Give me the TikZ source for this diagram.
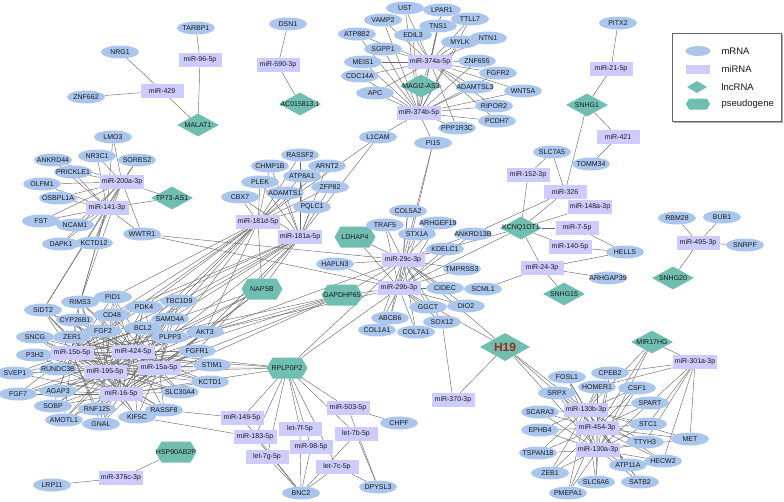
\documentclass[tikz,border=0pt]{standalone}
\usepackage{fontspec}
\setmainfont{Liberation Sans}
\usetikzlibrary{shapes.geometric,shapes.symbols}
\pgfdeclarelayer{bg}
\pgfsetlayers{bg,main}
\definecolor{mcol}{RGB}{170,198,237}
\definecolor{micol}{RGB}{206,204,255}
\definecolor{tcol}{RGB}{111,190,176}
\definecolor{ecol}{RGB}{108,108,108}
\definecolor{tx}{RGB}{25,25,25}
\definecolor{hcol}{RGB}{158,42,28}
\newlength\mylen
\newcommand\nf{\fontsize{7}{8.4}\selectfont}
\newcommand\Mrna[3]{\settowidth\mylen{\nf #3}\addtolength\mylen{6pt}\ifdim\mylen<38pt \setlength\mylen{38pt}\fi
  \node[mr,minimum width=\mylen] (#1) at (#2) {\makebox[0pt]{#3}};}
\newcommand\Mirna[3]{\node[mir] (#1) at (#2) {#3};}
\newcommand\Lnc[3]{\node[lnc] (#1) at (#2) {\makebox[0pt]{#3}};}
\newcommand\Pseu[3]{\node[pse] (#1) at (#2) {\makebox[0pt]{#3}};}
\begin{document}
\begin{tikzpicture}[x=1pt,y=-1pt,
  mr/.style={ellipse,fill=mcol,minimum height=13pt,inner sep=0pt,font=\nf,text=tx},
  mir/.style={rectangle,fill=micol,minimum width=43pt,minimum height=14pt,inner xsep=2pt,inner ysep=0pt,font=\nf,text=tx},
  lnc/.style={diamond,fill=tcol,minimum width=42pt,minimum height=23pt,inner sep=0pt,font=\nf,text=tx},
  pse/.style={signal,signal to=east and west,signal pointer angle=120,fill=tcol,minimum width=41pt,minimum height=21pt,inner sep=0pt,font=\nf,text=tx},
  edg/.style={draw=ecol,line width=0.45pt}]
\useasboundingbox (0,0) rectangle (784,501);
% ---------- top left
\Mrna{TARBP1}{196,28}{TARBP1}
\Mirna{m96}{200,60}{miR-96-5p}
\Mrna{NRG1}{120,52}{NRG1}
\Mirna{m429}{162,91}{miR-429}
\Mrna{ZNF662}{86,97}{ZNF662}
\Lnc{MALAT1}{198,125}{MALAT1}
\Mrna{DSN1}{288,24}{DSN1}
\Mirna{m590}{278,65}{miR-590-3p}
\Lnc{AC015}{300,104}{AC015813.1}
% ---------- miR-374 cluster
\Mrna{UST}{405,8}{UST}
\Mrna{LPAR1}{442,10}{LPAR1}
\Mrna{VAMP2}{383,20}{VAMP2}
\Mrna{TTLL7}{470,19}{TTLL7}
\Mrna{TNS1}{438,26}{TNS1}
\Mrna{ATP8B2}{357,34}{ATP8B2}
\Mrna{EDIL3}{413,35}{EDIL3}
\Mrna{SGPP1}{383,49}{SGPP1}
\Mrna{MYLK}{460,42}{MYLK}
\Mrna{NTN1}{488,38}{NTN1}
\Mrna{MEIS1}{363,62}{MEIS1}
\Mirna{m374a}{430,62}{miR-374a-5p}
\Mrna{ZNF655}{477,61}{ZNF655}
\Mrna{CDC14A}{360,76}{CDC14A}
\Mrna{FGFR2}{498,73}{FGFR2}
\Lnc{MAGI2}{421,86}{MAGI2-AS3}
\Mrna{ADAMTSL3}{475,87}{ADAMTSL3}
\Mrna{WNT5A}{523,91}{WNT5A}
\Mrna{APC}{375,93}{APC}
\Mirna{m374b}{419,113}{miR-374b-5p}
\Mrna{RIPOR2}{494,106}{RIPOR2}
\Mrna{PCDH7}{497,121}{PCDH7}
\Mrna{PPP1R3C}{457,128}{PPP1R3C}
\Mrna{PI15}{433,143}{PI15}
\Mrna{L1CAM}{378,137}{L1CAM}
% ---------- SNHG1 / KCNQ1OT1
\Mrna{PITX2}{618,23}{PITX2}
\Mirna{m21}{611,69}{miR-21-5p}
\Lnc{SNHG1}{587,105}{SNHG1}
\Mirna{m421}{618,137}{miR-421}
\Mrna{SLC7A5}{552,152}{SLC7A5}
\Mrna{TOMM34}{591,164}{TOMM34}
\Mirna{m152}{528,175}{miR-152-3p}
\Mirna{m326}{565,192}{miR-326}
\Mirna{m148a}{590,207}{miR-148a-3p}
\Lnc{KCNQ1}{521,228}{KCNQ1OT1}
\Mirna{m7}{577,228}{miR-7-5p}
\Mirna{m140}{570,247}{miR-140-5p}
\Mrna{HELLS}{625,252}{HELLS}
\Mirna{m24}{542,268}{miR-24-3p}
\Mrna{ARHGAP39}{608,278}{ARHGAP39}
\Lnc{SNHG15}{564,294}{SNHG15}
% ---------- miR-495
\Mrna{RBM28}{677,218}{RBM28}
\Mrna{BUB1}{722,217}{BUB1}
\Mirna{m495}{698,243}{miR-495-3p}
\Mrna{SNRPF}{745,245}{SNRPF}
\Lnc{SNHG20}{673,278}{SNHG20}
% ---------- miR-200 cluster
\Mrna{LMO3}{113,137}{LMO3}
\Mrna{ANKRD44}{53,160}{ANKRD44}
\Mrna{NR3C1}{97,156}{NR3C1}
\Mrna{SORBS2}{137,160}{SORBS2}
\Mrna{PRICKLE1}{73,172}{PRICKLE1}
\Mrna{OLFM1}{42,184}{OLFM1}
\Mirna{m200a}{122,182}{miR-200a-3p}
\Lnc{TP73AS1}{172,198}{TP73-AS1}
\Mrna{OSBPL1A}{58,198}{OSBPL1A}
\Mirna{m141}{107,208}{miR-141-3p}
\Mrna{FST}{41,221}{FST}
\Mrna{NCAM1}{75,225}{NCAM1}
\Mrna{WWTR1}{142,234}{WWTR1}
\Mrna{DAPK1}{61,244}{DAPK1}
\Mrna{KCTD12}{94,243}{KCTD12}
% ---------- miR-181 cluster
\Mrna{RASSF2}{300,155}{RASSF2}
\Mrna{CHMP1B}{270,166}{CHMP1B}
\Mrna{ARNT2}{327,166}{ARNT2}
\Mrna{ATP8A1}{302,176}{ATP8A1}
\Mrna{PLEK}{260,182}{PLEK}
\Mrna{ZFP82}{330,187}{ZFP82}
\Mrna{CBX7}{240,197}{CBX7}
\Mrna{ADAMTS1}{285,193}{ADAMTS1}
\Mrna{PQLC1}{312,207}{PQLC1}
\Mirna{m181d}{258,222}{miR-181d-5p}
\Mirna{m181a}{300,237}{miR-181a-5p}
\Pseu{LDHAP4}{355,237}{LDHAP4}
\Pseu{NAPSB}{262,289}{NAPSB}
\Pseu{GAPDHP65}{342,295}{GAPDHP65}
% ---------- miR-29 cluster
\Mrna{TRAF5}{385,225}{TRAF5}
\Mrna{COL5A2}{408,211}{COL5A2}
\Mrna{ARHGEF19}{438,223}{ARHGEF19}
\Mrna{STX1A}{417,234}{STX1A}
\Mrna{ANKRD13B}{473,234}{ANKRD13B}
\Mrna{KDELC1}{445,249}{KDELC1}
\Mrna{HAPLN3}{335,264}{HAPLN3}
\Mirna{m29c}{403,260}{miR-29c-3p}
\Mrna{TMPRSS3}{462,269}{TMPRSS3}
\Mirna{m29b}{399,288}{miR-29b-3p}
\Mrna{CIDEC}{445,288}{CIDEC}
\Mrna{SCML1}{483,289}{SCML1}
\Mrna{GGCT}{428,307}{GGCT}
\Mrna{DIO2}{466,306}{DIO2}
\Mrna{ABCB6}{390,318}{ABCB6}
\Mrna{SOX12}{442,322}{SOX12}
\Mrna{COL1A1}{377,330}{COL1A1}
\Mrna{COL7A1}{416,332}{COL7A1}
% ---------- dense cluster
\Mrna{SIDT2}{43,310}{SIDT2}
\Mrna{RIMS3}{80,302}{RIMS3}
\Mrna{PID1}{113,297}{PID1}
\Mrna{CD48}{112,315}{CD48}
\Mrna{PDK4}{144,307}{PDK4}
\Mrna{TBC1D9}{179,301}{TBC1D9}
\Mrna{CYP26B1}{75,320}{CYP26B1}
\Mrna{SAMD4A}{170,319}{SAMD4A}
\Mrna{FGF2}{103,331}{FGF2}
\Mrna{BCL2}{143,328}{BCL2}
\Mrna{AKT3}{205,332}{AKT3}
\Mrna{SNCG}{35,337}{SNCG}
\Mrna{ZER1}{72,337}{ZER1}
\Mrna{PLPP3}{170,337}{PLPP3}
\Mrna{P3H2}{35,355}{P3H2}
\Mrna{FGFR1}{197,351}{FGFR1}
\Mrna{RUNDC3B}{58,369}{RUNDC3B}
\Mrna{STIM1}{212,365}{STIM1}
\Mrna{SVEP1}{15,373}{SVEP1}
\Mrna{KCTD1}{210,382}{KCTD1}
\Mrna{FGF7}{18,394}{FGF7}
\Mrna{AGAP3}{58,391}{AGAP3}
\Mrna{SLC30A4}{180,392}{SLC30A4}
\Mrna{SOBP}{53,406}{SOBP}
\Mrna{RNF125}{97,409}{RNF125}
\Mrna{RASSF8}{164,410}{RASSF8}
\Mrna{KIF5C}{137,417}{KIF5C}
\Mrna{AMOTL1}{64,420}{AMOTL1}
\Mrna{GNAL}{101,424}{GNAL}
\Mirna{m15b}{72,353}{miR-15b-5p}
\Mirna{m424}{133,352}{miR-424-5p}
\Mirna{m195}{105,372}{miR-195-5p}
\Mirna{m15a}{159,368}{miR-15a-5p}
\Mirna{m16}{121,394}{miR-16-5p}
% ---------- bottom left
\Pseu{HSP}{176,452}{HSP90AB2P}
\Mirna{m376c}{121,478}{miR-376c-3p}
\Mrna{LRP11}{52,485}{LRP11}
% ---------- RPLP0P2 cluster
\Pseu{RPLP0P2}{287,368}{RPLP0P2}
\Mirna{m503}{348,408}{miR-503-5p}
\Mrna{CHPF}{399,423}{CHPF}
\Mirna{m149}{242,418}{miR-149-5p}
\Mirna{let7f}{300,429}{let-7f-5p}
\Mirna{let7b}{356,434}{let-7b-5p}
\Mirna{m183}{255,437}{miR-183-5p}
\Mirna{m98}{311,447}{miR-98-5p}
\Mirna{let7g}{267,457}{let-7g-5p}
\Mirna{let7c}{337,467}{let-7c-5p}
\Mrna{BNC2}{301,493}{BNC2}
\Mrna{DPYSL3}{378,487}{DPYSL3}
% ---------- H19
\node[lnc,minimum width=50pt,minimum height=28pt,font=\bfseries\fontsize{12}{14}\selectfont,text=hcol] (H19) at (505,347) {\makebox[0pt]{H19}};
\Mirna{m370}{453,400}{miR-370-3p}
% ---------- MIR17HG cluster
\Lnc{MIR17HG}{652,342}{MIR17HG}
\Mirna{m301a}{695,362}{miR-301a-3p}
\Mrna{FOSL1}{567,377}{FOSL1}
\Mrna{CPEB2}{610,373}{CPEB2}
\Mrna{HOMER1}{597,387}{HOMER1}
\Mrna{CSF1}{637,388}{CSF1}
\Mrna{SRPX}{557,393}{SRPX}
\Mrna{SPART}{650,403}{SPART}
\Mrna{SCARA3}{540,412}{SCARA3}
\Mrna{STC1}{648,424}{STC1}
\Mrna{EPHB4}{540,430}{EPHB4}
\Mrna{MET}{690,439}{MET}
\Mrna{TTYH3}{645,442}{TTYH3}
\Mrna{TSPAN18}{538,453}{TSPAN18}
\Mrna{HECW2}{663,461}{HECW2}
\Mrna{ATP11A}{628,465}{ATP11A}
\Mrna{ZEB1}{550,473}{ZEB1}
\Mrna{SLC6A6}{596,482}{SLC6A6}
\Mrna{SATB2}{640,482}{SATB2}
\Mrna{PMEPA1}{568,493}{PMEPA1}
\Mirna{m130b}{586,410}{miR-130b-3p}
\Mirna{m454}{597,428}{miR-454-3p}
\Mirna{m130a}{598,450}{miR-130a-3p}
% ---------- legend
\fill[gray!65] (674,35) rectangle (783,123);
\draw[draw=gray!80!black,fill=white,line width=0.5pt] (672,33) rectangle (781,121);
\node[mr,minimum width=25pt,minimum height=10pt] (Lm) at (698,51) {};
\node[mir,minimum width=24pt,minimum height=9pt] (Lmi) at (698,69) {};
\node[lnc,minimum width=20pt,minimum height=12pt] (Ll) at (697,87) {};
\node[pse,minimum width=24pt,minimum height=11pt] (Lp) at (698,104) {};
\begin{scope}[every node/.style={anchor=west,font=\fontsize{9.5}{11}\selectfont,text=tx}]
\node (Tm) at (718,51) {mRNA};
\node (Tmi) at (718,69) {miRNA};
\node (Tl) at (718,87) {lncRNA};
\node (Tp) at (718,104) {pseudogene};
\end{scope}
% ================= edges
\begin{pgfonlayer}{bg}
\foreach \a/\b in {TARBP1/m96,m96/MALAT1,NRG1/m429,ZNF662/m429,m429/MALAT1,DSN1/m590,m590/AC015,
  L1CAM/m181d,L1CAM/m181a,
  PITX2/m21,m21/SNHG1,SNHG1/m421,m421/TOMM34,SNHG1/m326,SLC7A5/m152,SLC7A5/m326,
  KCNQ1/m152,KCNQ1/m326,KCNQ1/m148a,KCNQ1/m7,KCNQ1/m140,KCNQ1/m24,m326/ANKRD13B,
  HELLS/m7,HELLS/m140,HELLS/m24,m24/ARHGAP39,m24/SNHG15,m24/SCML1,m29b/SCML1,
  RBM28/m495,BUB1/m495,SNRPF/m495,SNHG20/m495,
  HSP/m376c,m376c/LRP11,
  m503/CHPF,m503/DPYSL3,let7c/DPYSL3,let7b/DPYSL3,m149/RASSF8,m183/KIF5C,
  H19/m370,m370/SOX12,H19/m130b,H19/m454,H19/m130a,
  MIR17HG/m301a,MIR17HG/m130b,MIR17HG/m454,MIR17HG/m130a,
  AKT3/m29b,AKT3/m29c}
  \draw[edg] (\a) -- (\b);
\foreach \b in {UST,LPAR1,VAMP2,TTLL7,TNS1,ATP8B2,EDIL3,SGPP1,MYLK,NTN1,MEIS1,ZNF655,CDC14A,FGFR2,ADAMTSL3,WNT5A,APC,RIPOR2,PCDH7,PPP1R3C,MAGI2}
  \draw[edg] (m374a) -- (\b);
\foreach \b in {UST,LPAR1,VAMP2,TTLL7,TNS1,ATP8B2,EDIL3,SGPP1,MYLK,MEIS1,ZNF655,CDC14A,FGFR2,ADAMTSL3,WNT5A,APC,RIPOR2,PCDH7,PPP1R3C,PI15,L1CAM,MAGI2}
  \draw[edg] (m374b) -- (\b);
\foreach \a in {m181d,m181a}
  \foreach \b in {RASSF2,CHMP1B,ARNT2,ATP8A1,PLEK,ZFP82,CBX7,ADAMTS1,PQLC1,NAPSB}
    \draw[edg] (\a) -- (\b);
\foreach \b in {TBC1D9,PDK4,BCL2,SAMD4A,AKT3,CD48,PLPP3,FGF2,PID1}
  \draw[edg] (m181d) -- (\b);
\foreach \b in {TBC1D9,PDK4,BCL2,SAMD4A,AKT3,PLPP3,FGFR1,CD48}
  \draw[edg] (m181a) -- (\b);
\foreach \a in {m29c,m29b}
  \foreach \b in {TRAF5,COL5A2,ARHGEF19,STX1A,ANKRD13B,KDELC1,TMPRSS3,CIDEC,GGCT,DIO2,ABCB6,SOX12,COL1A1,COL7A1,HAPLN3,LDHAP4,GAPDHP65,KCNQ1,H19,RPLP0P2,WWTR1,PI15}
    \draw[edg] (\a) -- (\b);
\foreach \a in {NAPSB,GAPDHP65,RPLP0P2}
  \foreach \b in {m15b,m424,m195,m15a,m16}
    \draw[edg] (\a) -- (\b);
\foreach \a in {m15b,m424,m195,m15a,m16}
  \foreach \b in {SIDT2,RIMS3,PID1,CD48,PDK4,TBC1D9,CYP26B1,SAMD4A,FGF2,BCL2,AKT3,SNCG,ZER1,PLPP3,P3H2,FGFR1,RUNDC3B,STIM1,SVEP1,KCTD1,FGF7,AGAP3,SLC30A4,SOBP,RNF125,RASSF8,KIF5C,AMOTL1,GNAL}
    \draw[edg] (\a) -- (\b);
\foreach \b in {LMO3,ANKRD44,NR3C1,SORBS2,PRICKLE1,OLFM1,OSBPL1A,NCAM1,DAPK1,KCTD12,WWTR1,TP73AS1,SIDT2,RIMS3,FST}
  \draw[edg] (m200a) -- (\b);
\foreach \b in {LMO3,NR3C1,SORBS2,PRICKLE1,OSBPL1A,FST,NCAM1,DAPK1,KCTD12,TP73AS1,OLFM1,ANKRD44,SIDT2,RIMS3,CYP26B1,WWTR1}
  \draw[edg] (m141) -- (\b);
\foreach \b in {m149,m183,let7g,let7f,m98,let7c,let7b,m503}
  \draw[edg] (RPLP0P2) -- (\b);
\foreach \b in {let7g,let7f,m98,let7c,let7b,m149,m183}
  \draw[edg] (BNC2) -- (\b);
\foreach \b in {CPEB2,HOMER1,SPART,STC1,TTYH3,HECW2,MET}
  \draw[edg] (m301a) -- (\b);
\foreach \a in {m130b,m454,m130a}
  \foreach \b in {FOSL1,CPEB2,HOMER1,CSF1,SRPX,SPART,SCARA3,STC1,EPHB4,MET,TTYH3,TSPAN18,HECW2,ATP11A,ZEB1,SLC6A6,SATB2,PMEPA1}
    \draw[edg] (\a) -- (\b);
\end{pgfonlayer}
\end{tikzpicture}
\end{document}
